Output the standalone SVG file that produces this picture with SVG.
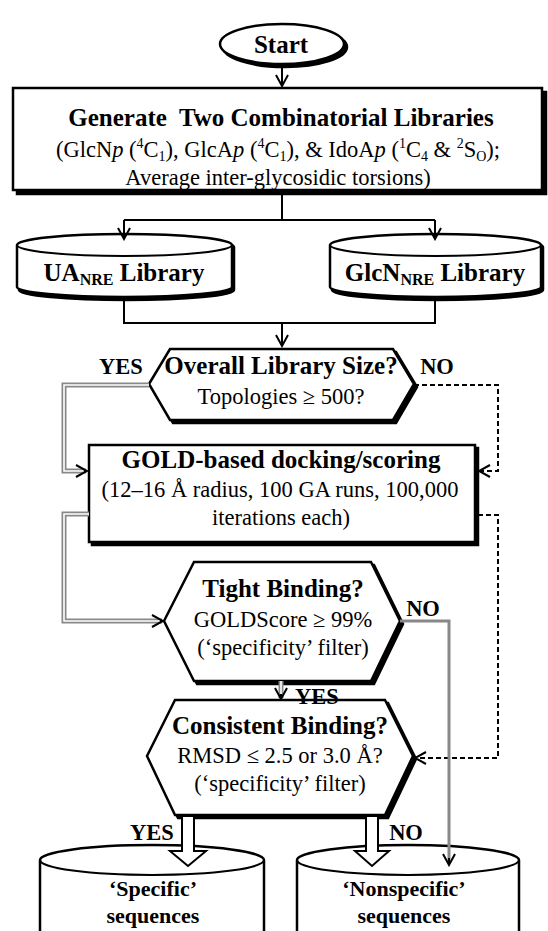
<svg xmlns="http://www.w3.org/2000/svg" width="548" height="931" viewBox="0 0 548 931">
<defs>
<style>
text{font-family:'Liberation Serif','DejaVu Serif','Noto Serif',serif;fill:#000;text-anchor:middle}
.b{font-weight:bold;font-size:25px}
.r{font-size:22.5px}
.lb{font-weight:bold;font-size:22.5px}
.sq{font-weight:bold;font-size:22px}
.sh{fill:#000;stroke:#000;stroke-width:2.5}
.nd{fill:#fff;stroke:#000;stroke-width:2.5}
.ln{fill:none;stroke:#000;stroke-width:2}
.dash{fill:none;stroke:#000;stroke-width:2;stroke-dasharray:5 3}
.dblo{fill:none;stroke:#888;stroke-width:5}
.dbli{fill:none;stroke:#fff;stroke-width:1.6}
.gray{fill:none;stroke:#888;stroke-width:3}
.hol{fill:#fff;stroke:#000;stroke-width:2}
</style>
<marker id="ah" markerUnits="userSpaceOnUse" markerWidth="16" markerHeight="16" viewBox="-14 -8 16 16" refX="0" refY="0" orient="auto">
<path d="M-11,-6 L0,0 L-11,6" fill="none" stroke="#000" stroke-width="2"/>
</marker>
</defs>
<rect width="548" height="931" fill="#fff"/>

<g id="start">
<ellipse class="sh" cx="285" cy="47" rx="62" ry="20"/>
<ellipse class="nd" cx="282" cy="44" rx="62" ry="20"/>
<text class="b" x="281" y="53" font-size="26">Start</text>
</g>

<g id="generate">
<rect class="sh" x="17" y="92" width="529" height="102"/>
<rect class="nd" x="13" y="88" width="529" height="102"/>
<text class="b" x="281" y="126" style="white-space:pre">Generate  Two Combinatorial Libraries</text>
<text class="r" x="278" y="157" font-size="23">(GlcN<tspan font-style="italic">p</tspan> (<tspan font-size="14" dy="-9">4</tspan><tspan dy="9">C</tspan><tspan font-size="14" dy="4">1</tspan><tspan dy="-4">), GlcA</tspan><tspan font-style="italic">p</tspan> (<tspan font-size="14" dy="-9">4</tspan><tspan dy="9">C</tspan><tspan font-size="14" dy="4">1</tspan><tspan dy="-4">), &amp; IdoA</tspan><tspan font-style="italic">p</tspan> (<tspan font-size="14" dy="-9">1</tspan><tspan dy="9">C</tspan><tspan font-size="14" dy="4">4</tspan><tspan dy="-4"> &amp; </tspan><tspan font-size="14" dy="-9">2</tspan><tspan dy="9">S</tspan><tspan font-size="14" dy="4">O</tspan><tspan dy="-4">);</tspan></text>
<text class="r" x="278" y="185">Average inter-glycosidic torsions)</text>
</g>

<g id="ua-library">
<path class="sh" d="M19,247 A107,11 0 0 1 234,247 L234,290 A107,10 0 0 1 19,290 Z"/>
<path class="nd" d="M17,245 A107,11 0 0 1 232,245 L232,287 A107,10 0 0 1 17,287 Z"/>
<path class="ln" stroke-width="2.5" d="M17,245 A107,11 0 0 0 232,245"/>
<text class="b" x="124" y="281">UA<tspan font-size="16" dy="4">NRE</tspan><tspan dy="-4"> Library</tspan></text>
</g>

<g id="glcn-library">
<path class="sh" d="M332,247 A105,11 0 0 1 543,247 L543,290 A105,10 0 0 1 332,290 Z"/>
<path class="nd" d="M330,245 A105,11 0 0 1 541,245 L541,287 A105,10 0 0 1 330,287 Z"/>
<path class="ln" stroke-width="2.5" d="M330,245 A105,11 0 0 0 541,245"/>
<text class="b" x="435" y="281">GlcN<tspan font-size="16" dy="4">NRE</tspan><tspan dy="-4"> Library</tspan></text>
</g>

<g id="size-check">
<polygon class="sh" points="152,387 173,352 396,352 417,387 396,423 173,423"/>
<polygon class="nd" points="149,384 170,349 393,349 414,384 393,420 170,420"/>
<text class="b" x="281" y="374" font-size="24">Overall Library Size?</text>
<text class="r" x="281" y="404">Topologies ≥ 500?</text>
</g>

<g id="gold">
<rect class="sh" x="92" y="448" width="386" height="97"/>
<rect class="nd" x="89" y="445" width="386" height="97"/>
<text class="b" x="281" y="468">GOLD-based docking/scoring</text>
<text class="r" x="280" y="497">(12–16 Å radius, 100 GA runs, 100,000</text>
<text class="r" x="281" y="525">iterations each)</text>
</g>

<g id="tight">
<polygon class="sh" points="167,624 197,565 374,565 403,624 374,684 197,684"/>
<polygon class="nd" points="164,621 194,562 371,562 400,621 371,681 194,681"/>
<text class="b" x="283" y="597">Tight Binding?</text>
<text class="r" x="283" y="627">GOLDScore ≥ 99%</text>
<text class="r" x="283" y="655">(‘specificity’ filter)</text>
</g>

<g id="consistent">
<polygon class="sh" points="150,759 178,703 388,703 416,759 388,818 178,818"/>
<polygon class="nd" points="147,756 175,700 385,700 413,756 385,815 175,815"/>
<text class="b" x="280" y="734">Consistent Binding?</text>
<text class="r" x="280" y="763">RMSD ≤ 2.5 or 3.0 Å?</text>
<text class="r" x="280" y="791">(‘specificity’ filter)</text>
</g>

<g id="specific">
<path class="nd" d="M40,860 A112,15 0 0 1 264,860 L264,940 L40,940 Z"/>
<path class="ln" stroke-width="2.5" d="M40,860 A112,15 0 0 0 264,860"/>
<text class="sq" x="153" y="896">‘Specific’</text>
<text class="sq" x="153" y="923">sequences</text>
</g>

<g id="nonspecific">
<path class="nd" d="M297,860 A111,15 0 0 1 519,860 L519,940 L297,940 Z"/>
<path class="ln" stroke-width="2.5" d="M297,860 A111,15 0 0 0 519,860"/>
<text class="sq" x="404" y="896">‘Nonspecific’</text>
<text class="sq" x="404" y="923">sequences</text>
</g>

<g id="connectors">
<path class="ln" d="M282,64 V86" marker-end="url(#ah)"/>
<path class="ln" d="M282,193 V220 M124,220 H435"/>
<path class="ln" d="M124,220 V239" marker-end="url(#ah)"/>
<path class="ln" d="M435,220 V239" marker-end="url(#ah)"/>
<path class="ln" d="M124,297 V323 H435 V297"/>
<path class="ln" d="M282,323 V346" marker-end="url(#ah)"/>

<path class="dblo" d="M149,385 H64 V471 H86"/>
<path class="dbli" d="M149,385 H64 V471 H86"/>
<path class="ln" d="M84,471 H87" marker-end="url(#ah)"/>

<path class="dash" d="M414,385 H498 V471 H479" marker-end="url(#ah)"/>

<path class="dblo" d="M89,514 H64 V621 H162"/>
<path class="dbli" d="M89,514 H64 V621 H162"/>
<path class="ln" d="M160,621 H163" marker-end="url(#ah)"/>

<path class="dash" d="M478,515 H498 V758 H415" marker-end="url(#ah)"/>

<path class="gray" d="M400,621 H449 V862"/>
<path class="ln" d="M449,858 V865" marker-end="url(#ah)"/>

<path class="dblo" d="M281,681 V698"/>
<path class="dbli" d="M281,681 V698"/>
<path class="ln" d="M281,694 V699" marker-end="url(#ah)"/>

<polygon class="hol" points="182,816 194,816 194,851 206,851 188,866 170,851 182,851"/>
<polygon class="hol" points="366,816 378,816 378,851 389,851 372,866 355,851 366,851"/>

<text class="lb" x="121" y="374">YES</text>
<text class="lb" x="437" y="374">NO</text>
<text class="lb" x="423" y="616">NO</text>
<text class="lb" x="317" y="704">YES</text>
<text class="lb" x="152" y="840">YES</text>
<text class="lb" x="406" y="840">NO</text>
</g>
</svg>
